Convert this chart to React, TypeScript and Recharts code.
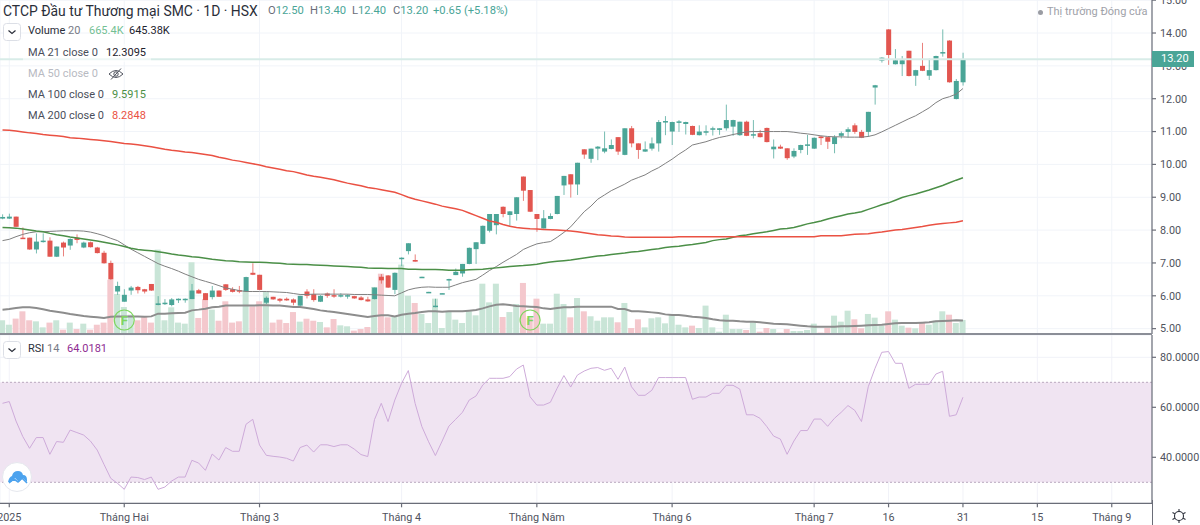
import React from "react";
import {
  Bar,
  CartesianGrid,
  ComposedChart,
  Line,
  ReferenceArea,
  ReferenceDot,
  ReferenceLine,
  XAxis,
  YAxis,
} from "recharts";

const opens = [
  8.35, 8.35, 8.41, 7.77, 7.77, 7.41, 7.64, 7.68, 7.19, 7.62,
  7.53, 7.77, 7.47, 7.63, 7.47, 7.31, 7.0, 6.13, 5.82, 6.16,
  6.27, 6.2, 6.36, 5.72, 5.75, 5.72, 5.88, 5.89, 5.9, 6.17,
  6.08, 5.96, 6.16, 6.35, 6.2, 6.17, 6.13, 6.7, 6.64, 5.79,
  5.97, 5.91, 5.91, 5.89, 5.7, 6.13, 6.05, 5.82, 6.07, 6.02,
  5.98, 5.99, 5.99, 5.95, 5.89, 5.9, 6.58, 6.62, 6.18, 7.13,
  7.36, 7.09, 6.56, 6.1, 5.66, 6.06, 6.48, 6.63, 6.68, 6.97,
  7.42, 7.58, 7.98, 8.15, 8.71, 8.46, 8.49, 9.63, 9.22, 8.49,
  8.05, 8.34, 8.49, 9.36, 9.7, 9.39, 10.46, 10.17, 10.48, 10.39,
  10.47, 10.83, 10.29, 11.1, 10.64, 10.39, 10.48, 10.64, 11.29, 11.0,
  11.28, 11.23, 11.17, 10.89, 10.98, 11.07, 11.05, 11.1, 11.15, 10.89,
  11.3, 10.88, 10.95, 11.11, 10.46, 10.54, 10.49, 10.24, 10.44, 10.58,
  10.48, 10.85, 10.83, 10.62, 10.87, 10.99, 11.19, 10.99, 10.99, 12.34,
  13.16, 14.11, 13.05, 13.05, 13.46, 12.7, 13.0, 12.7, 12.87, 13.38,
  13.77, 11.99, 12.5,
];
const closes = [
  8.4, 8.41, 8.1, 7.74, 7.41, 7.65, 7.68, 7.19, 7.5, 7.47,
  7.73, 7.7, 7.62, 7.48, 7.3, 6.99, 6.5, 6.3, 6.03, 6.25,
  6.17, 6.13, 6.16, 5.77, 5.79, 5.89, 5.91, 5.91, 6.16, 6.07,
  5.87, 6.16, 5.97, 6.18, 6.12, 6.14, 6.57, 6.64, 6.18, 5.94,
  5.89, 5.85, 5.86, 5.79, 6.0, 6.0, 5.87, 6.0, 6.0, 5.98,
  6.02, 6.02, 5.92, 5.87, 5.83, 6.25, 6.47, 6.25, 6.7, 7.16,
  7.6, 7.04, 6.58, 6.12, 5.7, 6.08, 6.51, 6.73, 6.97, 7.46,
  7.63, 8.13, 8.49, 8.49, 8.49, 8.57, 9.0, 9.2, 8.56, 8.34,
  8.36, 8.43, 9.04, 9.65, 9.39, 10.05, 10.3, 10.48, 10.54, 10.49,
  10.59, 10.39, 11.1, 10.64, 10.44, 10.46, 10.64, 11.29, 11.32, 11.29,
  11.31, 11.29, 10.9, 11.0, 11.01, 11.1, 11.1, 11.35, 11.35, 11.3,
  10.87, 10.92, 10.83, 10.68, 10.54, 10.48, 10.19, 10.41, 10.59, 10.61,
  10.81, 10.8, 10.69, 10.83, 10.95, 11.07, 10.99, 10.81, 11.6, 12.41,
  13.25, 13.33, 13.17, 13.17, 12.69, 12.87, 12.85, 12.87, 13.3, 13.42,
  12.5, 12.54, 13.2,
];
const highs = [
  8.48, 8.5, 8.41, 8.08, 7.77, 7.9, 7.9, 7.78, 7.5, 7.65,
  7.75, 7.87, 7.65, 7.65, 7.49, 7.37, 7.07, 6.43, 6.2, 6.3,
  6.3, 6.21, 6.36, 5.99, 5.9, 5.93, 5.92, 5.92, 6.36, 6.21,
  6.08, 6.3, 6.16, 6.35, 6.26, 6.3, 6.58, 6.99, 6.64, 5.98,
  5.97, 5.93, 5.95, 5.92, 6.0, 6.2, 6.2, 6.02, 6.1, 6.2,
  6.08, 6.05, 6.0, 5.99, 5.97, 6.25, 6.66, 6.63, 6.71, 7.17,
  7.6, 7.26, 6.58, 6.12, 5.91, 6.08, 6.52, 6.83, 6.97, 7.47,
  7.63, 8.14, 8.49, 8.49, 8.72, 8.58, 9.0, 9.63, 9.22, 8.49,
  8.61, 8.51, 9.04, 9.65, 9.7, 10.05, 10.46, 10.48, 10.56, 11.0,
  10.76, 10.83, 11.1, 11.17, 10.64, 10.7, 10.82, 11.35, 11.47, 11.3,
  11.35, 11.3, 11.18, 11.19, 11.19, 11.15, 11.1, 11.82, 11.36, 11.3,
  11.33, 11.35, 11.05, 11.12, 10.76, 10.6, 10.49, 10.49, 10.6, 10.9,
  10.82, 10.86, 10.84, 10.89, 11.0, 11.13, 11.25, 11.05, 11.6, 12.42,
  13.26, 14.12, 13.51, 13.3, 13.46, 12.88, 13.7, 13.22, 13.31, 14.11,
  13.78, 12.6, 13.4,
];
const lows = [
  8.33, 8.34, 8.1, 7.73, 7.4, 7.29, 7.62, 7.19, 7.18, 7.2,
  7.4, 7.6, 7.45, 7.47, 7.29, 6.98, 6.49, 6.03, 5.82, 6.03,
  6.07, 6.07, 6.15, 5.71, 5.72, 5.68, 5.78, 5.79, 5.9, 6.07,
  5.87, 5.89, 5.97, 6.15, 6.1, 6.08, 6.12, 6.63, 6.17, 5.75,
  5.88, 5.8, 5.85, 5.71, 5.69, 5.92, 5.82, 5.81, 5.94, 5.94,
  5.95, 5.91, 5.91, 5.86, 5.82, 5.89, 6.37, 6.24, 6.05, 6.9,
  7.26, 7.04, 6.56, 6.1, 5.65, 6.06, 6.18, 6.63, 6.58, 6.96,
  6.97, 7.57, 7.93, 7.87, 8.39, 8.12, 8.29, 8.89, 8.55, 7.95,
  8.05, 8.33, 8.48, 9.07, 8.99, 9.07, 10.17, 10.05, 10.13, 10.34,
  10.46, 10.29, 10.28, 10.52, 10.17, 10.38, 10.42, 10.39, 10.89, 10.59,
  10.99, 10.91, 10.89, 10.88, 10.88, 10.88, 10.9, 11.03, 10.87, 10.87,
  10.86, 10.79, 10.82, 10.67, 10.18, 10.47, 10.14, 10.19, 10.34, 10.29,
  10.47, 10.59, 10.47, 10.34, 10.79, 10.82, 10.93, 10.8, 10.84, 11.82,
  13.1, 13.03, 13.04, 12.69, 12.68, 12.39, 12.84, 12.57, 12.86, 13.28,
  12.49, 11.98, 12.4,
];
const volumes = [
  650, 440, 730, 1075, 650, 600, 315, 540, 650, 205,
  540, 235, 490, 205, 440, 540, 2575, 1895, 1280, 915,
  650, 805, 540, 4000, 650, 1265, 540, 490, 3400, 760,
  1660, 1155, 630, 1550, 540, 600, 2070, 1310, 1550, 2020,
  540, 680, 520, 1040, 585, 725, 630, 570, 315, 710,
  410, 365, 160, 235, 330, 2230, 2860, 790, 840, 3290,
  1815, 1470, 950, 520, 1675, 285, 1075, 680, 520, 1075,
  885, 2385, 1500, 2385, 805, 1040, 1420, 2420, 760, 1675,
  490, 490, 1910, 1420, 790, 1705, 1075, 840, 630, 790,
  790, 555, 1470, 285, 695, 315, 745, 790, 505, 900,
  440, 315, 395, 285, 1345, 315, 110, 915, 235, 235,
  190, 555, 110, 285, 235, 65, 235, 140, 140, 190,
  490, 65, 285, 870, 585, 1105, 695, 270, 950, 775,
  395, 1075, 680, 395, 300, 270, 535, 440, 630, 1075,
  915, 520, 665.4,
];
const volumeMa = [
  1155, 1185, 1230, 1265, 1265, 1230, 1170, 1105, 1060, 1010,
  950, 900, 855, 820, 790, 760, 820, 835, 835, 835,
  835, 820, 835, 965, 965, 980, 995, 1010, 1120, 1155,
  1200, 1265, 1295, 1345, 1345, 1345, 1345, 1345, 1360, 1360,
  1345, 1345, 1310, 1280, 1280, 1230, 1185, 1120, 1075, 1045,
  995, 950, 900, 855, 805, 855, 885, 885, 835, 915,
  965, 995, 1045, 1075, 1075, 1060, 1075, 1075, 1075, 1105,
  1140, 1215, 1310, 1390, 1405, 1375, 1325, 1310, 1295, 1280,
  1215, 1185, 1230, 1265, 1265, 1295, 1295, 1295, 1295, 1295,
  1295, 1185, 1185, 1075, 1075, 1060, 1025, 995, 930, 900,
  900, 870, 820, 790, 760, 695, 650, 630, 630, 600,
  585, 585, 555, 520, 490, 475, 460, 425, 395, 365,
  345, 345, 345, 345, 365, 365, 380, 395, 410, 425,
  440, 475, 505, 520, 520, 520, 535, 555, 600, 615,
  630, 650, 645.38,
];
const ma21 = [
  7.68, 7.72, 7.8, 7.87, 7.92, 7.95, 7.95, 7.96, 7.97, 7.98,
  7.98, 7.98, 7.97, 7.94, 7.89, 7.83, 7.75, 7.68, 7.55, 7.42,
  7.31, 7.2, 7.09, 6.98, 6.9, 6.83, 6.75, 6.66, 6.58, 6.5,
  6.44, 6.38, 6.31, 6.24, 6.2, 6.16, 6.13, 6.13, 6.13, 6.13,
  6.12, 6.11, 6.1, 6.07, 6.04, 6.04, 6.05, 6.05, 6.05, 6.05,
  6.05, 6.05, 6.04, 6.04, 6.04, 6.03, 6.02, 6.01, 6.0, 6.09,
  6.18, 6.23, 6.26, 6.27, 6.26, 6.26, 6.26, 6.33, 6.4, 6.45,
  6.5, 6.63, 6.77, 6.89, 7.02, 7.14, 7.26, 7.41, 7.5, 7.58,
  7.62, 7.65, 7.78, 7.93, 8.1, 8.33, 8.56, 8.73, 8.94, 9.07,
  9.2, 9.3, 9.4, 9.52, 9.6, 9.68, 9.8, 9.9, 10.03, 10.16,
  10.31, 10.44, 10.59, 10.64, 10.69, 10.76, 10.82, 10.86, 10.91, 10.95,
  10.99, 11.0, 11.0, 11.0, 11.0, 11.0, 11.0, 10.98, 10.95, 10.93,
  10.9, 10.87, 10.85, 10.84, 10.84, 10.83, 10.83, 10.83, 10.85, 10.9,
  10.99, 11.09, 11.19, 11.29, 11.39, 11.48, 11.6, 11.72, 11.88, 12.0,
  12.06, 12.14, 12.3095,
];
const ma100 = [
  8.08, 8.07, 8.06, 8.03, 8.0, 7.97, 7.95, 7.9, 7.86, 7.83,
  7.79, 7.76, 7.73, 7.7, 7.67, 7.63, 7.59, 7.55, 7.5, 7.45,
  7.41, 7.39, 7.37, 7.34, 7.31, 7.27, 7.24, 7.22, 7.19, 7.17,
  7.14, 7.11, 7.09, 7.07, 7.06, 7.04, 7.03, 7.02, 7.02, 7.01,
  7.0, 6.99, 6.97, 6.96, 6.95, 6.95, 6.94, 6.93, 6.92, 6.91,
  6.9, 6.89, 6.88, 6.87, 6.85, 6.84, 6.84, 6.83, 6.83, 6.83,
  6.81, 6.81, 6.8, 6.8, 6.8, 6.79, 6.78, 6.78, 6.78, 6.79,
  6.8, 6.81, 6.83, 6.85, 6.87, 6.89, 6.91, 6.92, 6.94, 6.96,
  7.0, 7.03, 7.05, 7.07, 7.09, 7.12, 7.15, 7.18, 7.21, 7.23,
  7.26, 7.28, 7.3, 7.33, 7.35, 7.38, 7.41, 7.43, 7.47, 7.49,
  7.51, 7.54, 7.56, 7.59, 7.62, 7.68, 7.71, 7.73, 7.78, 7.83,
  7.85, 7.89, 7.92, 7.95, 7.99, 8.03, 8.05, 8.08, 8.13, 8.19,
  8.23, 8.28, 8.34, 8.39, 8.44, 8.49, 8.52, 8.56, 8.63, 8.7,
  8.77, 8.83, 8.91, 8.99, 9.05, 9.1, 9.16, 9.22, 9.29, 9.36,
  9.44, 9.52, 9.5915,
];
const ma200 = [
  11.05, 11.04, 11.02, 10.99, 10.96, 10.94, 10.91, 10.89, 10.87, 10.85,
  10.81, 10.8, 10.78, 10.76, 10.74, 10.72, 10.7, 10.67, 10.64, 10.62,
  10.6, 10.57, 10.54, 10.5, 10.46, 10.43, 10.41, 10.38, 10.36, 10.33,
  10.3, 10.27, 10.22, 10.18, 10.13, 10.1, 10.06, 10.02, 9.98, 9.93,
  9.89, 9.85, 9.81, 9.78, 9.73, 9.68, 9.64, 9.61, 9.57, 9.53,
  9.48, 9.43, 9.39, 9.35, 9.3, 9.27, 9.23, 9.19, 9.15, 9.08,
  9.0, 8.94, 8.89, 8.84, 8.79, 8.73, 8.69, 8.65, 8.6, 8.52,
  8.44, 8.36, 8.28, 8.24, 8.17, 8.12, 8.08, 8.06, 8.04, 8.03,
  8.02, 8.01, 8.0, 7.99, 7.97, 7.95, 7.92, 7.89, 7.86, 7.84,
  7.82, 7.81, 7.79, 7.78, 7.78, 7.78, 7.78, 7.78, 7.78, 7.78,
  7.8, 7.8, 7.8, 7.8, 7.8, 7.8, 7.8, 7.8, 7.8, 7.8,
  7.8, 7.8, 7.8, 7.8, 7.8, 7.8, 7.8, 7.8, 7.8, 7.8,
  7.8, 7.83, 7.83, 7.83, 7.83, 7.85, 7.87, 7.88, 7.89, 7.92,
  7.94, 7.97, 8.0, 8.02, 8.05, 8.08, 8.11, 8.15, 8.18, 8.2,
  8.22, 8.24, 8.2848,
];
const rsi = [
  61.6, 62.3, 54.5, 48.3, 43.6, 47.9, 47.9, 41.2, 46.3, 46.0,
  50.9, 49.9, 48.9, 46.5, 42.9, 37.2, 31.6, 29.6, 27.2, 32.1,
  31.9, 31.1, 32.1, 27.2, 28.1, 30.5, 32.1, 32.1, 38.8, 37.7,
  34.8, 41.3, 38.9, 43.9, 42.4, 42.4, 53.2, 55.2, 44.9, 40.8,
  40.4, 40.1, 39.6, 38.5, 43.9, 44.9, 42.1, 45.0, 45.0, 44.3,
  45.0, 45.0, 43.3, 41.1, 40.3, 55.1, 61.6, 54.3, 62.9, 69.6,
  74.7, 61.6, 52.3, 46.2, 40.7, 46.5, 52.5, 55.2, 58.0, 62.9,
  64.5, 68.9, 71.6, 71.6, 71.6, 72.3, 75.3, 76.9, 64.2, 60.9,
  60.9, 62.0, 67.6, 72.7, 68.1, 72.9, 74.5, 75.6, 75.9, 74.8,
  75.6, 71.2, 76.1, 68.2, 64.8, 64.8, 66.8, 71.9, 71.9, 71.9,
  71.9, 71.9, 63.2, 64.1, 64.1, 65.6, 65.6, 68.8, 68.8, 67.3,
  57.0, 57.0, 55.6, 52.3, 48.5, 47.3, 41.2, 46.5, 50.7, 50.7,
  55.3, 55.3, 52.4, 55.6, 58.0, 60.7, 58.8, 54.3, 68.2, 75.6,
  82.0, 82.3, 77.6, 77.6, 67.6, 69.2, 69.2, 69.2, 73.3, 74.4,
  56.4, 57.0, 64.0181,
];

const priceTicks = [5, 6, 7, 8, 9, 10, 11, 12, 13, 14, 15];
const rsiTicks = [40, 60, 80];
const dateTicks = [1, 18, 38, 59, 79, 99, 120, 131, 142, 153, 164];
const dateLabels = ["2025", "Tháng Hai", "Tháng 3", "Tháng 4", "Tháng Năm", "Tháng 6", "Tháng 7", "16", "31", "15", "Tháng 9"];
const financialMarks = [18, 78];
const lastClose = 13.2;

const UP = "#4aa597";
const DOWN = "#e25650";
const FONT = 'Roboto, "Noto Sans", sans-serif';
const PLOT_RIGHT = 1152;
const PRICE_H = 334;

const rows = opens.map((open, i) => ({
  i,
  open,
  close: closes[i],
  range: [lows[i], highs[i]],
  volume: volumes[i],
  volumeMa: volumeMa[i],
  ma21: ma21[i],
  ma100: ma100[i],
  ma200: ma200[i],
  rsi: rsi[i],
}));

const xDomain = [-0.37, 169.95];
const priceDomain = [4.837, 15.005];
// the price tag lives outside the chart svg, so place it with the same linear mapping as the axis
const lastCloseY = (PRICE_H * (priceDomain[1] - lastClose)) / (priceDomain[1] - priceDomain[0]);

function Candle(props: any) {
  const { x, y, width, height, payload } = props;
  const [low, high] = payload.range;
  const pxPerUnit = height / (high - low);
  const top = y + (high - Math.max(payload.open, payload.close)) * pxPerUnit;
  const bodyH = Math.max(Math.abs(payload.open - payload.close) * pxPerUnit, 1.5);
  const color = payload.close >= payload.open ? UP : DOWN;
  const mid = x + width / 2;
  return (
    <g>
      <line x1={mid} x2={mid} y1={y} y2={y + height} stroke={color} strokeOpacity={0.75} strokeWidth={1} />
      <rect x={x} y={top} width={width} height={bodyH} fill={color} />
    </g>
  );
}

function VolumeBar(props: any) {
  const { x, y, width, height, payload } = props;
  const fill = payload.close >= payload.open ? "#c9e5d7" : "#f4c8cd";
  return <rect x={x} y={y} width={width} height={height} fill={fill} />;
}

function Chevron({ top }: { top: number }) {
  return (
    <svg width={18} height={18} style={{ position: "absolute", left: 3, top }}>
      <rect x={0.5} y={0.5} width={17} height={17} rx={3} fill="#fff" stroke="#dcdfe6" />
      <path d="M5.5 7.5 L9 10.5 L12.5 7.5" fill="none" stroke="#2a2e39" strokeWidth={1.2} />
    </svg>
  );
}

function Txt({ x, y, color, size = 11, children }: any) {
  return (
    <span
      style={{
        position: "absolute",
        left: x,
        top: y,
        color,
        fontSize: size,
        lineHeight: "16px",
        whiteSpace: "nowrap",
        transform: "translateY(-50%)",
      }}
    >
      {children}
    </span>
  );
}

const axisTick = { fontSize: 10.8, fill: "#50535e", fontFamily: FONT };

export default function App() {
  return (
    <div style={{ position: "absolute", left: 0, top: 0, width: 1200, height: 525, overflow: "hidden", background: "#fff", fontFamily: FONT }}>
      <div style={{ position: "absolute", left: 0, top: 0 }}>
        <ComposedChart width={1200} height={PRICE_H} data={rows} margin={{ top: 0, right: 0, bottom: 0, left: 0 }}>
          <CartesianGrid xAxisId="px" yAxisId="price" stroke="#f1f4f9" />
          <XAxis xAxisId="px" dataKey="i" type="number" domain={xDomain} ticks={dateTicks} allowDataOverflow hide />
          <XAxis xAxisId="vol" dataKey="i" type="number" domain={xDomain} ticks={dateTicks} allowDataOverflow hide />
          <YAxis
            yAxisId="price"
            orientation="right"
            width={48}
            domain={priceDomain}
            ticks={priceTicks}
            interval={0}
            allowDataOverflow
            tick={axisTick}
            tickSize={4}
            tickMargin={4}
            tickFormatter={(v: number) => v.toFixed(2)}
            stroke="#6a6d78"
            strokeWidth={1.2}
          />
          <YAxis yAxisId="volume" hide domain={[0, 15830]} allowDataOverflow />
          <ReferenceLine xAxisId="px" yAxisId="price" y={lastClose} stroke="#d8ece8" strokeWidth={2} />
          <Bar xAxisId="vol" yAxisId="volume" dataKey="volume" barSize={6} shape={<VolumeBar />} isAnimationActive={false} />
          <Line xAxisId="vol" yAxisId="volume" dataKey="volumeMa" stroke="#8d8d8d" strokeWidth={2} dot={false} activeDot={false} isAnimationActive={false} />
          <Line xAxisId="px" yAxisId="price" dataKey="ma21" stroke="#808080" strokeWidth={1} dot={false} activeDot={false} isAnimationActive={false} />
          <Line xAxisId="px" yAxisId="price" dataKey="ma100" stroke="#4b8f47" strokeWidth={1.5} dot={false} activeDot={false} isAnimationActive={false} />
          <Line xAxisId="px" yAxisId="price" dataKey="ma200" stroke="#ea5143" strokeWidth={1.5} dot={false} activeDot={false} isAnimationActive={false} />
          <Bar xAxisId="px" yAxisId="price" dataKey="range" barSize={5} shape={<Candle />} isAnimationActive={false} />
          {financialMarks.map((m) => (
            <ReferenceDot
              key={m}
              xAxisId="px"
              yAxisId="price"
              x={m}
              y={5.263}
              r={10}
              fill="none"
              stroke="#7fd65f"
              strokeWidth={1.2}
              label={{ value: "F", position: "center", fill: "#7fd65f", fontSize: 13, fontWeight: 700, fontFamily: FONT }}
            />
          ))}
        </ComposedChart>
      </div>

      <div
        style={{
          position: "absolute",
          left: PLOT_RIGHT,
          top: lastCloseY - 8,
          width: 42,
          height: 16,
          background: UP,
          color: "#fff",
          fontSize: 11,
          lineHeight: "16px",
          paddingLeft: 9,
          boxSizing: "border-box",
        }}
      >
        {lastClose.toFixed(2)}
      </div>

      <div style={{ position: "absolute", left: 0, top: 333, width: PLOT_RIGHT, height: 2, background: "#8b8e97" }} />

      <div style={{ position: "absolute", left: 0, top: 335 }}>
        <ComposedChart width={1200} height={190} data={rows} margin={{ top: 0, right: 0, bottom: 0, left: 0 }}>
          <ReferenceArea yAxisId="rsi" y1={30} y2={70} fill="#f0e4f2" fillOpacity={1} stroke="none" />
          <CartesianGrid yAxisId="rsi" stroke="#eff1f7" strokeOpacity={0.9} />
          <XAxis
            dataKey="i"
            type="number"
            domain={xDomain}
            ticks={dateTicks}
            interval={0}
            allowDataOverflow
            height={21.7}
            tick={axisTick}
            tickSize={4}
            tickMargin={6}
            tickFormatter={(v: number) => dateLabels[dateTicks.indexOf(v)]}
            stroke="#6a6d78"
            strokeWidth={1.2}
          />
          <YAxis
            yAxisId="rsi"
            orientation="right"
            width={48}
            domain={[21.6, 88.92]}
            ticks={rsiTicks}
            interval={0}
            allowDataOverflow
            tick={axisTick}
            tickSize={4}
            tickMargin={4}
            tickFormatter={(v: number) => v.toFixed(4)}
            stroke="#6a6d78"
            strokeWidth={1.2}
          />
          <ReferenceLine yAxisId="rsi" y={70} stroke="#b9a8bf" strokeDasharray="2 2" />
          <ReferenceLine yAxisId="rsi" y={30} stroke="#b9a8bf" strokeDasharray="2 2" />
          <Line yAxisId="rsi" dataKey="rsi" stroke="#cdaad9" strokeWidth={1} dot={false} activeDot={false} isAnimationActive={false} />
        </ComposedChart>
      </div>

      <div style={{ position: "absolute", left: 1151.5, top: 500, width: 1.2, height: 25, background: "#6a6d78" }} />

      {/* legend and status text sit over the panes */}
      <Txt x={3} y={10.5} color="#2a2e39" size={13.9}>CTCP Đầu tư Thương mại SMC · 1D · HSX</Txt>
      <Txt x={268} y={10.5} color="#6a6d78" size={11.2}>O<span style={{ color: UP }}>12.50</span></Txt>
      <Txt x={310} y={10.5} color="#6a6d78" size={11.2}>H<span style={{ color: UP }}>13.40</span></Txt>
      <Txt x={352} y={10.5} color="#6a6d78" size={11.2}>L<span style={{ color: UP }}>12.40</span></Txt>
      <Txt x={393} y={10.5} color="#6a6d78" size={11.2}>C<span style={{ color: UP }}>13.20</span></Txt>
      <Txt x={433} y={10.5} color={UP} size={11.2}>+0.65 (+5.18%)</Txt>

      <Chevron top={23} />
      <Txt x={28} y={31} color="#2a2e39">Volume <span style={{ color: "#787b86" }}>20</span></Txt>
      <Txt x={89} y={31} color="#74bf94">665.4K</Txt>
      <Txt x={129} y={31} color="#1e222d">645.38K</Txt>

      <div style={{ position: "absolute", left: 23, top: 44, width: 128, height: 18, background: "rgba(255,255,255,0.6)" }} />
      <Txt x={28} y={52.5} color="#4a4e5a">MA 21 close 0</Txt>
      <Txt x={106} y={52.5} color="#1e222d">12.3095</Txt>
      <Txt x={28} y={73.5} color="#b8bac2">MA 50 close 0</Txt>
      <svg width={16} height={12} style={{ position: "absolute", left: 107.5, top: 68 }}>
        <path d="M1 6 Q8 -1 15 6 Q8 13 1 6 Z" fill="none" stroke="#50535e" strokeWidth={1} />
        <circle cx={8} cy={6} r={2.2} fill="none" stroke="#50535e" />
        <line x1={3} y1={11.5} x2={13} y2={0.5} stroke="#50535e" />
      </svg>
      <Txt x={28} y={95} color="#4a4e5a">MA 100 close 0</Txt>
      <Txt x={112} y={95} color="#4b8f47">9.5915</Txt>
      <Txt x={28} y={116} color="#4a4e5a">MA 200 close 0</Txt>
      <Txt x={112} y={116} color="#ea5143">8.2848</Txt>

      <span style={{ position: "absolute", left: 1038, top: 9.5, width: 5, height: 5, borderRadius: 3, background: "#9a9ca3" }} />
      <Txt x={1047} y={12} color="#a0a2a9">Thị trường Đóng cửa</Txt>

      <Chevron top={341} />
      <Txt x={28} y={349} color="#2a2e39">RSI <span style={{ color: "#787b86" }}>14</span></Txt>
      <Txt x={67} y={349} color="#8e2b92">64.0181</Txt>

      <svg width={32} height={32} style={{ position: "absolute", left: 1, top: 461 }}>
        <circle cx={16} cy={16} r={14.5} fill="#fff" stroke="#e6e8ee" />
        <path d="M7 21 Q8 16 11 15 Q12 10 17 10 Q21 10 22 14 Q26 14 26 19 L26 21 L22 17 L18 21 L14 17 L10 21 Z" fill="#4da3ee" />
        <path d="M8 22 L13 18 L17 21 L21 17 L26 22" fill="none" stroke="#4da3ee" strokeWidth={1.6} />
      </svg>

      <svg width={16} height={16} style={{ position: "absolute", left: 1171, top: 508 }}>
        <circle cx={8} cy={8} r={4.5} fill="none" stroke="#2a2e39" strokeWidth={1.1} />
        <path d="M8 1 L8 3.5 M8 12.5 L8 15 M1.5 4.5 L3.8 5.7 M12.2 10.3 L14.5 11.5 M1.5 11.5 L3.8 10.3 M12.2 5.7 L14.5 4.5" stroke="#2a2e39" strokeWidth={1.1} />
      </svg>
    </div>
  );
}
